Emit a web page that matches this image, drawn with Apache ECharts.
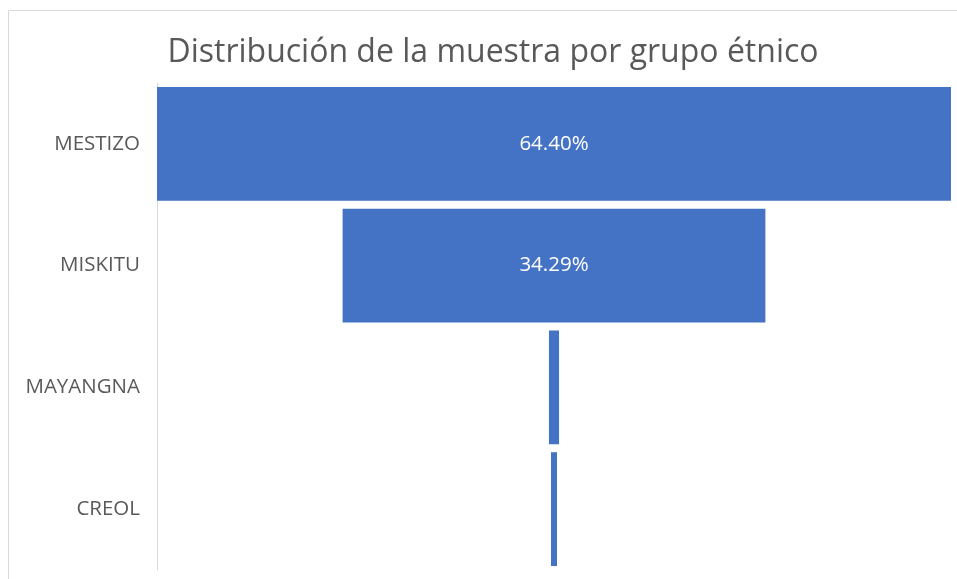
<!DOCTYPE html>
<html>
<head>
<meta charset="utf-8">
<script src="https://cdn.jsdelivr.net/npm/echarts@6/dist/echarts.min.js"></script>
<style>
  html, body { margin: 0; padding: 0; background: #fff; }
  #chart { width: 957px; height: 579px; }
</style>
</head>
<body>
<div id="chart"></div>
<script>
// grupos étnicos y porcentajes de la muestra
var categories = ['MESTIZO', 'MISKITU', 'MAYANGNA', 'CREOL'];
var values = [64.40, 34.29, 0.82, 0.49];

var maxValue = Math.max.apply(null, values);
// desplazamiento invisible para centrar cada barra (embudo)
var offsets = values.map(function (v) { return (maxValue - v) / 2; });

var chart = echarts.init(document.getElementById('chart'));
chart.setOption({
  animation: false,
  title: {
    text: 'Distribución de la muestra por grupo étnico',
    left: 488,
    textAlign: 'center',
    top: 32,
    textStyle: {
      fontFamily: 'Open Sans',
      fontSize: 32,
      fontWeight: 'normal',
      color: '#595959'
    }
  },
  graphic: [
    {
      type: 'rect',
      shape: { x: 8.5, y: 10.5, width: 1000, height: 1000 },
      style: { fill: 'none', stroke: '#d9d9d9', lineWidth: 1 },
      silent: true
    }
  ],
  grid: { left: 157, right: 6, top: 83, bottom: 9 },
  xAxis: {
    type: 'value',
    min: 0,
    max: maxValue,
    show: false
  },
  yAxis: {
    type: 'category',
    data: categories,
    inverse: true,
    axisLine: { show: true, lineStyle: { color: '#d9d9d9', width: 1 } },
    axisTick: { show: false },
    axisLabel: {
      margin: 17,
      fontFamily: 'Open Sans',
      fontSize: 20.5,
      color: '#595959'
    }
  },
  series: [
    {
      type: 'bar',
      stack: 'funnel',
      data: offsets,
      itemStyle: { color: 'transparent' },
      silent: true,
      barCategoryGap: '6.5%'
    },
    {
      type: 'bar',
      stack: 'funnel',
      data: values,
      barCategoryGap: '6.5%',
      itemStyle: { color: '#4472c4' },
      label: {
        show: true,
        position: 'inside',
        fontFamily: 'Open Sans',
        fontSize: 20.5,
        color: '#ffffff',
        formatter: function (p) {
          return p.value >= 5 ? p.value.toFixed(2) + '%' : '';
        }
      }
    }
  ]
});
</script>
</body>
</html>
